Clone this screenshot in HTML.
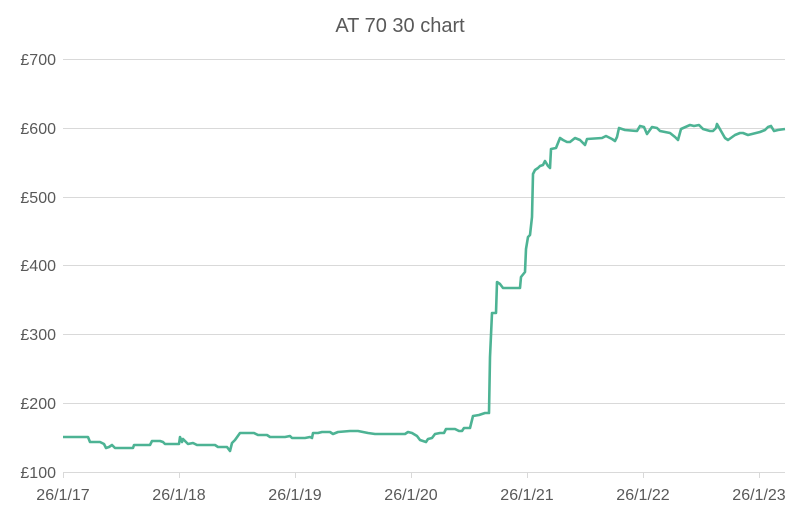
<!DOCTYPE html>
<html><head><style>body{margin:0;background:#fff}svg{display:block}text{font-family:"Liberation Sans",sans-serif;fill:#595959}</style></head>
<body><svg width="800" height="517" viewBox="0 0 800 517">
<text x="400" y="32" font-size="20" text-anchor="middle">AT 70 30 chart</text>
<g stroke="#d9d9d9" stroke-width="1">
<line x1="63" x2="785" y1="59.5" y2="59.5"/><line x1="63" x2="785" y1="128.5" y2="128.5"/><line x1="63" x2="785" y1="197.5" y2="197.5"/><line x1="63" x2="785" y1="265.5" y2="265.5"/><line x1="63" x2="785" y1="334.5" y2="334.5"/><line x1="63" x2="785" y1="403.5" y2="403.5"/><line x1="63" x2="785" y1="472.5" y2="472.5"/>
<line x1="63.5" x2="63.5" y1="472" y2="478"/><line x1="179.5" x2="179.5" y1="472" y2="478"/><line x1="295.5" x2="295.5" y1="472" y2="478"/><line x1="411.5" x2="411.5" y1="472" y2="478"/><line x1="527.5" x2="527.5" y1="472" y2="478"/><line x1="643.5" x2="643.5" y1="472" y2="478"/><line x1="759.5" x2="759.5" y1="472" y2="478"/>
</g>
<g font-size="16" text-anchor="end">
<text x="56" y="65">£700</text><text x="56" y="134">£600</text><text x="56" y="203">£500</text><text x="56" y="271">£400</text><text x="56" y="340">£300</text><text x="56" y="409">£200</text><text x="56" y="478">£100</text>
</g>
<g font-size="16" text-anchor="middle">
<text x="63" y="500">26/1/17</text><text x="179" y="500">26/1/18</text><text x="295" y="500">26/1/19</text><text x="411" y="500">26/1/20</text><text x="527" y="500">26/1/21</text><text x="643" y="500">26/1/22</text><text x="759" y="500">26/1/23</text>
</g>
<polyline fill="none" stroke="#4db394" stroke-width="2.6" stroke-linejoin="round" points="63,437 88,437 90,442 100,442 104,444 106,448 109,447 112,445 115,448 133,448 134,445 150,445 152,441 160,441 163,442 165,444 179,444 180,437 182,442 183,439 185,441 188,444 193,443 197,445 215,445 218,447 227,447 230,451 232,443 235,440 240,433 254,433 258,435 267,435 270,437 285,437 290,436 292,438 305,438 310,437 312,438 313,433 318,433 322,432 330,432 333,434 338,432 350,431 358,431 368,433 375,434 405,434 408,432 412,433 417,436 420,440 423,441 426,442 428,439 432,438 435,434 440,433 444,433 446,429 455,429 459,431 462,431 464,428 470,428 473,416 479,415 485,413 489,413 490,357 492,313 496,313 497,282 500,284 503,288 520,288 521,277 525,272 526,249 528,237 530,235 532,217 533,174 535,170 538,168 540,166 543,165 545,161 548,166 550,168 551,149 556,148 560,138 563,140 567,142 570,142 575,138 580,140 585,145 587,139 602,138 606,136 612,139 615,141 617,137 619,128 625,130 637,131 640,126 644,127 647,134 652,127 657,128 660,131 665,132 670,133 675,137 678,140 681,129 690,125 694,126 699,125 703,129 710,131 713,131 716,128 717,124 721,131 725,138 728,140 735,135 740,133 743,133 748,135 760,132 765,130 768,127 771,126 774,131 778,130 785,129"/>
</svg></body></html>
